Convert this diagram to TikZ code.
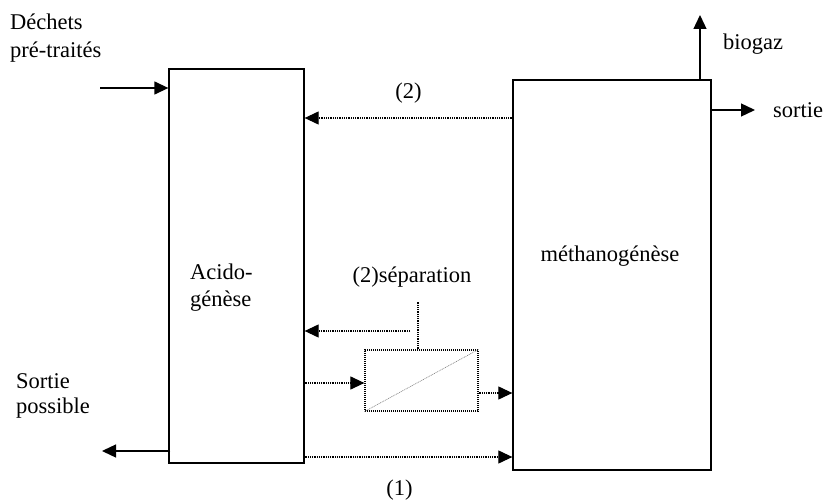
\documentclass[tikz,border=0pt]{standalone}
\usepackage{fontspec}
\setmainfont{Liberation Serif}
\usepackage{tikz}
\usetikzlibrary{arrows.meta,positioning,calc}
\tikzset{
  >={Triangle[length=14pt,width=13pt]},
  block/.style={rectangle,draw,line width=1.3pt,inner sep=0pt},
  filter/.style={rectangle,draw,line width=1.2pt,dash pattern=on 1pt off 1pt,inner sep=0pt},
  flow/.style={->,line width=1.3pt},
  back/.style={->,line width=1.1pt,dash pattern=on 1pt off 0.8pt},
  dots/.style={line width=1.1pt,dash pattern=on 1pt off 0.8pt},
  txt/.style={font=\fontsize{22.5}{28}\selectfont,inner sep=0pt,align=left}
}

\begin{document}
\begin{tikzpicture}[x=1pt,y=-1pt]
  \useasboundingbox (0,0) rectangle (823,500);

  % Reactors
  \node[block,minimum width=135pt,minimum height=394pt] (acido) at (236.5,266) {};
  \node[block,minimum width=198pt,minimum height=390pt] (metha) at (612,275) {};
  \node[txt,anchor=west] (acidolbl) at (190,288) {Acido-\\[-1pt]génèse};
  \node[txt] (methalbl) at (610,256) {méthanogénèse};

  % Separation unit
  \node[filter,minimum width=113pt,minimum height=61pt] (sep) at (421.5,380.5) {};
  \draw[dots,line width=0.6pt,gray] (sep.south west) -- (sep.north east);
  \node[txt] (seplbl) at (412,277) {(2)séparation};

  % Inputs and outputs
  \node[txt,anchor=west] (dechets) at (10,38) {Déchets\\pré-traités};
  \node[txt,anchor=west] (sortiepos) at (16,396) {Sortie\\[-3pt]possible};
  \node[txt,anchor=west] (biogaz) at (723,44) {biogaz};
  \node[txt,anchor=west] (sortie) at (773,110) {sortie};
  \coordinate (in) at (100,88);
  \coordinate (out) at (102,451);
  \coordinate (gas) at (700,15);
  \coordinate (exit) at (755,110);
  \draw[flow] (in) -- (in -| acido.west);
  \draw[flow] ([xshift=2pt]out -| acido.west) -- (out);
  \draw[flow] (gas |- metha.north) -- (gas);
  \draw[flow] (exit -| metha.east) -- (exit);

  % Recycling loops
  \draw[back] (metha.west |- 0,118) -- (acido.east |- 0,118)
    node[txt,midway,above=14pt] (lbltwo) {(2)};
  \draw[back] (acido.east |- 0,457) -- (metha.west |- 0,457)
    node[txt,midway,below=22pt,xshift=-9pt] (lblone) {(1)};
  \coordinate (tap) at (418,302);
  \coordinate (ret) at (410,331);
  \draw[dots] (sep.north -| tap) -- (tap);
  \draw[back] (ret) -- (ret -| acido.east);
  \draw[back] (acido.east |- 0,383) -- (sep.west |- 0,383);
  \draw[back] (sep.east |- 0,393) -- (metha.west |- 0,393);
\end{tikzpicture}
\end{document}
